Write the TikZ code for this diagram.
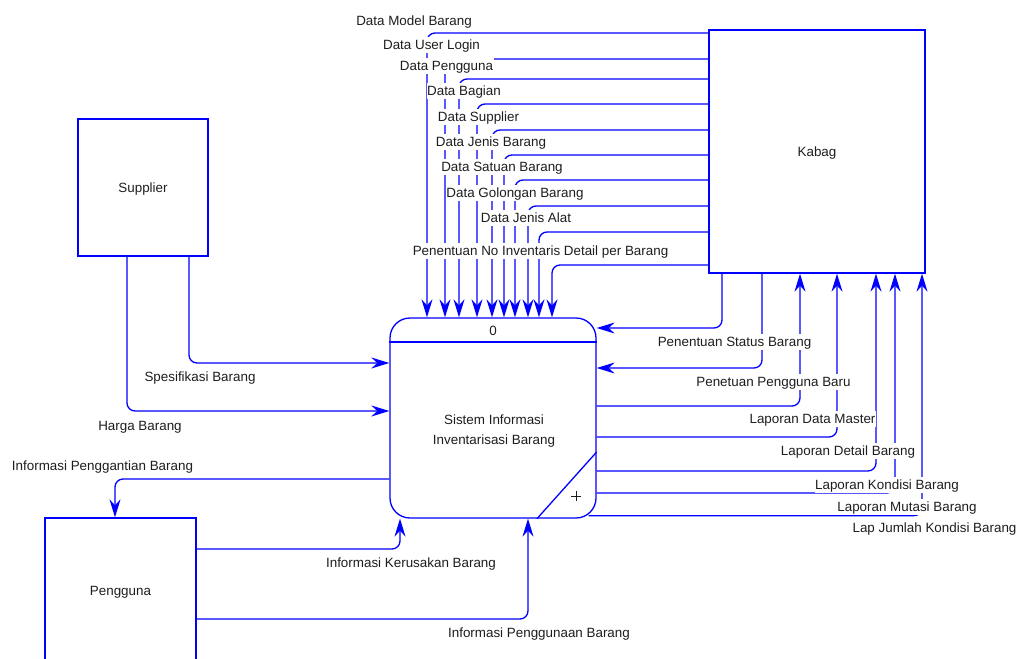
\documentclass[tikz,border=0pt]{standalone}
\usepackage{fontspec}
\setmainfont{Liberation Sans}
\usetikzlibrary{arrows.meta,calc}
\definecolor{flowblue}{RGB}{0,0,255}
\definecolor{txt}{RGB}{30,30,30}
\begin{document}
\begin{tikzpicture}[x=1pt,y=-1pt,
  font=\fontsize{13.4}{16}\selectfont,
  every node/.style={text=txt},
  flow/.style={draw=flowblue,line width=1.3pt,rounded corners=8pt,-{Stealth[length=18pt,width=11pt,inset=6pt]}},
  ent/.style={draw=flowblue,line width=1.3pt,fill=white,inner sep=0pt,text height=12pt,text depth=3pt},
  lab/.style={fill=white,inner sep=0.5pt,text height=12pt,text depth=3pt},
  edge/.style={draw=flowblue,line width=1.3pt}]
\useasboundingbox (0,0) rectangle (1018,659);
\clip (0,0) rectangle (1018,659);

% entities and process
\node[ent,minimum width=216pt,minimum height=243pt] (k) at (817,151.5) {Kabag};
\node[ent,minimum width=130pt,minimum height=137pt] (s) at (143,187.5) {Supplier};
\node[ent,minimum width=151pt,minimum height=146pt] (g) at (120.5,591) {Pengguna};
\node[ent,rounded corners=20pt,minimum width=206pt,minimum height=200pt] (p) at (493,418) {};
\draw[edge] (p.west |- 0,342) -- (p.east |- 0,342);
\draw[edge] (p.east |- 0,452) -- (p.south -| 537,0);
\node[text height=12pt,text depth=3pt,inner sep=0pt] (pn) at (493,331) {0};
\node[align=center,inner sep=0pt,font=\fontsize{13.4}{20}\selectfont] (pt) at (494,431) {Sistem Informasi\\Inventarisasi Barang};
\draw[txt,line width=0.6pt] (571,496) -- (581,496) (576,491) -- (576,501);

% flows from Kabag to process (top)
\draw[flow] (k.west |- 0,33) -| (p.north -| 427,0);
\draw[flow] (k.west |- 0,59) -| (p.north -| 445,0);
\draw[flow] (k.west |- 0,79) -| (p.north -| 459,0);
\draw[flow] (k.west |- 0,104) -| (p.north -| 477,0);
\draw[flow] (k.west |- 0,130) -| (p.north -| 492,0);
\draw[flow] (k.west |- 0,155) -| (p.north -| 504,0);
\draw[flow] (k.west |- 0,180) -| (p.north -| 515,0);
\draw[flow] (k.west |- 0,206) -| (p.north -| 528,0);
\draw[flow] (k.west |- 0,232) -| (p.north -| 539,0);
\draw[flow] (k.west |- 0,265) -| (p.north -| 552,0);

% flows Kabag <-> process (right)
\draw[flow] (k.south -| 722,0) |- (p.east |- 0,328);
\draw[flow] (k.south -| 762,0) |- (p.east |- 0,368);
\draw[flow] (p.east |- 0,406) -| (k.south -| 800,0);
\draw[flow] (p.east |- 0,437) -| (k.south -| 837,0);
\draw[flow] (p.east |- 0,471) -| (k.south -| 876,0);
\draw[flow] (p.east |- 0,493) -| (k.south -| 895,0);
\draw[flow] ($(p.south east)+(-8,-3)$) -| (k.south -| 922,0);

% flows left side
\draw[flow] (s.south -| 189,0) |- (p.west |- 0,363);
\draw[flow] (s.south -| 127,0) |- (p.west |- 0,411);
\draw[flow] (p.west |- 0,479) -| (g.north -| 115,0);
\draw[flow] (g.east |- 0,549) -| (p.south -| 400,0);
\draw[flow] (g.east |- 0,619) -| (p.south -| 528,0);

% labels
\node[lab] (l1) at (414,20.5) {Data Model Barang};
\node[lab] (l2) at (431.5,45) {Data User Login};
\node[lab] (l3) at (446.5,66) {Data Pengguna};
\node[lab] (l4) at (464,90.5) {Data Bagian};
\node[lab] (l5) at (478.5,116.5) {Data Supplier};
\node[lab] (l6) at (491,142) {Data Jenis Barang};
\node[lab] (l7) at (502,166.5) {Data Satuan Barang};
\node[lab] (l8) at (515,192.5) {Data Golongan Barang};
\node[lab] (l9) at (526,218) {Data Jenis Alat};
\node[lab] (l10) at (540.5,250.5) {Penentuan No Inventaris Detail per Barang};

\node[lab] (r1) at (734.5,341.5) {Penentuan Status Barang};
\node[lab] (r2) at (773.5,381.5) {Penetuan Pengguna Baru};
\node[lab] (r3) at (812.5,419) {Laporan Data Master};
\node[lab] (r4) at (848,451) {Laporan Detail Barang};
\node[lab] (r5) at (887,485) {Laporan Kondisi Barang};
\node[lab] (r6) at (907,507) {Laporan Mutasi Barang};
\node[lab] (r7) at (934.5,528) {Lap Jumlah Kondisi Barang};

\node[lab] (b1) at (200,377) {Spesifikasi Barang};
\node[lab] (b2) at (140,426) {Harga Barang};
\node[lab] (b3) at (102.5,465.5) {Informasi Penggantian Barang};
\node[lab] (b4) at (411,563) {Informasi Kerusakan Barang};
\node[lab] (b5) at (539,633) {Informasi Penggunaan Barang};
\end{tikzpicture}
\end{document}
